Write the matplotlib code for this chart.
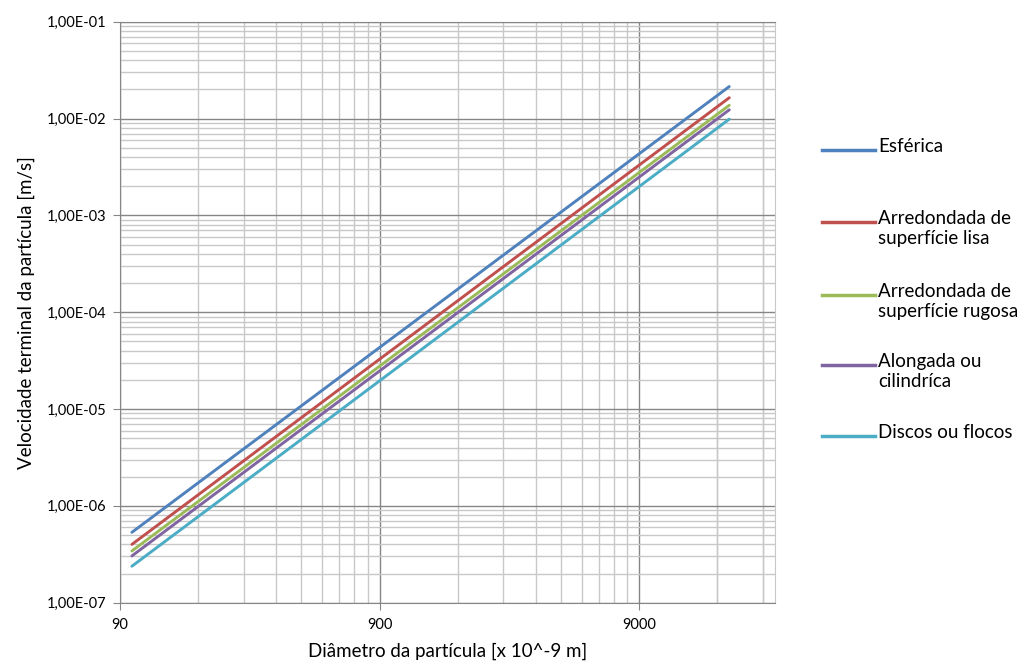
import numpy as np
import matplotlib
matplotlib.use("Agg")
import matplotlib.pyplot as plt
from matplotlib.ticker import FixedLocator, FuncFormatter, NullFormatter
from matplotlib.lines import Line2D

plt.rcParams['font.family'] = ['Lato', 'DejaVu Sans']

# diametro [nm] e velocidade terminal [m/s]
diametro = [100, 20000]
esferica = [5.33e-7, 2.14e-2]
lisa = [4.0e-7, 1.64e-2]
rugosa = [3.42e-7, 1.37e-2]
alongada = [3.04e-7, 1.23e-2]
discos = [2.38e-7, 9.86e-3]

nomes = ["Esférica", "Arredondada de\nsuperfície lisa", "Arredondada de\nsuperfície rugosa",
         "Alongada ou\ncilindríca", "Discos ou flocos"]
series = [esferica, lisa, rugosa, alongada, discos]
cores = ["#4F81BD", "#C0504D", "#9BBB59", "#8064A2", "#4BACC6"]

maj_x = [90, 900, 9000]
maj_y = [1e-7, 1e-6, 1e-5, 1e-4, 1e-3, 1e-2, 1e-1]

fig = plt.figure(figsize=(10.29, 6.65), dpi=100)
ax = fig.add_axes([120/1029, 1 - 602.7/665, (775-120)/1029, (602.7-21.7)/665])

for v, c in zip(series, cores):
    ax.plot(diametro, v, color=c, lw=2.1, solid_capstyle='round', zorder=3)

ax.set_xscale('log')
ax.set_yscale('log')
ax.set_xlim(90, 30000)
ax.set_ylim(1e-7, 1e-1)

# grade secundaria do Excel: multiplos de 90
min_x = [m * k for m in maj_x for k in range(2, 10)] + [18000, 27000]
min_y = [m * k for m in maj_y[:-1] for k in range(2, 10)]
ax.xaxis.set_major_locator(FixedLocator(maj_x))
ax.xaxis.set_minor_locator(FixedLocator(min_x))
ax.xaxis.set_major_formatter(FuncFormatter(lambda x, p: "%d" % round(x)))
ax.xaxis.set_minor_formatter(NullFormatter())

ax.yaxis.set_major_locator(FixedLocator(maj_y))
ax.yaxis.set_minor_locator(FixedLocator(min_y))
ax.yaxis.set_major_formatter(FuncFormatter(lambda y, p: ("%.2E" % y).replace('.', ',')))
ax.yaxis.set_minor_formatter(NullFormatter())

ax.grid(which='major', color='#868686', lw=1.0, zorder=1)
ax.grid(which='minor', color='#c8c8c8', lw=1.0, zorder=0)
ax.set_axisbelow(True)

for s in ['left', 'bottom', 'top']:
    ax.spines[s].set_color('#868686')
ax.spines['right'].set_color('#c8c8c8')

ax.tick_params(which='major', direction='out', length=5, color='#868686', labelsize=10.5)
ax.tick_params(which='minor', length=0)
ax.tick_params(axis='x', pad=6)
ax.tick_params(axis='y', pad=5)

ax.set_xlabel("Diâmetro da partícula [x 10^-9 m]", fontsize=13.5, labelpad=8)
ax.set_ylabel("Velocidade terminal da partícula [m/s]", fontsize=13.5, labelpad=8)

# legenda
ys = [150, 222, 295, 365, 436]
for y, nome, c in zip(ys, nomes, cores):
    fy = 1 - y / 665
    fig.add_artist(Line2D([822/1029, 875/1029], [fy, fy], color=c, lw=2.5, transform=fig.transFigure))
    fig.text(878/1029, fy + 12/665, nome, fontsize=13.5, va='top', ha='left', linespacing=1.2)

fig.savefig("out.png", dpi=100)
